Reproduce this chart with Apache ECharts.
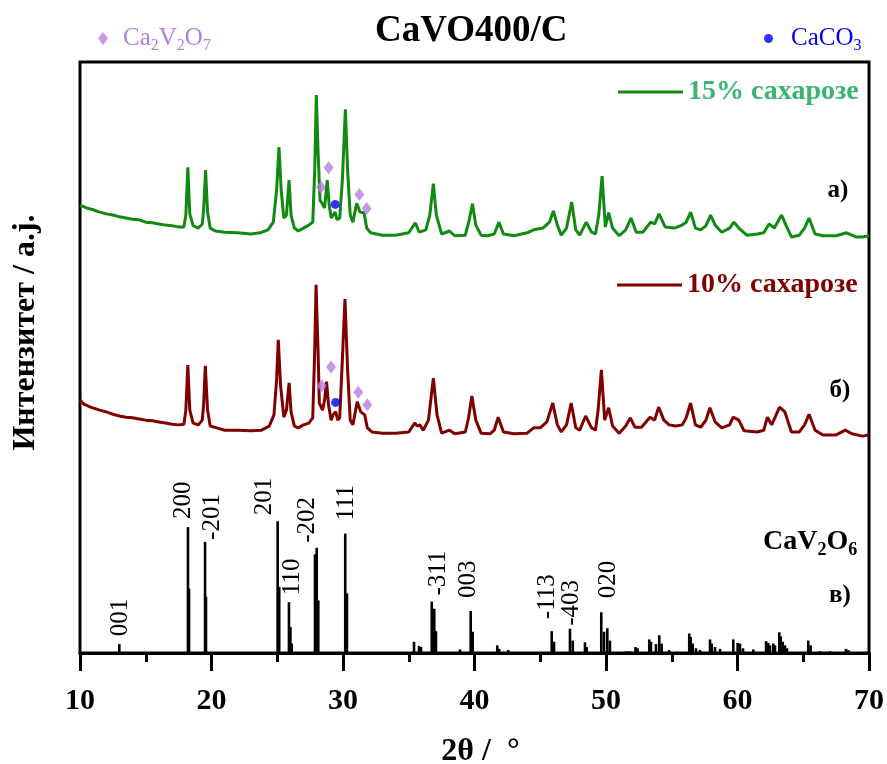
<!DOCTYPE html>
<html>
<head>
<meta charset="utf-8">
<script src="https://cdn.jsdelivr.net/npm/echarts/dist/echarts.min.js"></script>
<style>
  html, body { margin: 0; padding: 0; background: #fff; }
  #chart { width: 887px; height: 764px; }
</style>
</head>
<body>
<div id="chart"></div>
<script>
// 2θ tick labels of the bottom axis
const xTicks = [10, 20, 30, 40, 50, 60, 70];

// XRD pattern, CaVO400/C with 15 % sucrose: [2θ, intensity (a.u., offset)]
const trace15 = [
  [10.0,75.8],[10.5,75.3],[11.0,75.0],[11.5,74.6],[12.0,74.3],[12.5,74.1],[13.0,73.8],[13.5,73.6],
  [14.0,73.4],[14.5,73.3],[15.0,72.9],[15.5,72.8],[16.0,72.6],[16.5,72.4],[17.0,72.3],[17.5,72.1],
  [17.9,72.1],[18.05,74.1],[18.2,82.2],[18.35,74.3],[18.6,72.3],[19.0,71.9],[19.3,72.6],[19.4,75.0],
  [19.55,81.7],[19.7,74.6],[19.9,71.9],[20.3,71.4],[21.0,71.2],[22.0,71.1],[23.0,70.9],[23.7,71.1],
  [24.3,71.6],[24.7,72.9],[24.95,78.3],[25.13,85.6],[25.3,78.3],[25.5,73.6],[25.7,74.1],[25.9,80.0],
  [26.05,74.1],[26.3,71.9],[26.6,71.4],[27.0,71.9],[27.4,72.4],[27.7,72.9],[27.85,81.7],[27.97,94.4],
  [28.1,85.1],[28.25,76.6],[28.4,76.1],[28.6,75.3],[28.8,80.0],[28.95,75.8],[29.1,73.6],[29.25,74.1],
  [29.4,74.6],[29.55,73.3],[29.75,73.6],[29.95,80.0],[30.18,92.0],[30.35,81.7],[30.55,74.1],[30.75,72.9],
  [31.04,76.1],[31.3,74.6],[31.6,74.5],[31.8,71.9],[32.1,71.1],[33.0,70.7],[34.0,70.7],[35.0,71.1],
  [35.5,72.8],[35.8,71.2],[36.3,71.6],[36.6,74.1],[36.87,79.4],[37.1,74.1],[37.5,70.9],[38.1,71.4],
  [38.5,70.6],[39.3,70.7],[39.6,73.3],[39.84,76.0],[40.1,72.4],[40.5,70.7],[41.0,70.6],[41.5,70.9],
  [41.86,72.9],[42.2,70.9],[43.0,70.6],[44.0,71.1],[44.5,71.6],[45.2,71.9],[45.7,72.9],[46.0,74.8],
  [46.3,72.4],[46.6,70.7],[47.0,71.9],[47.39,76.3],[47.7,71.6],[48.0,70.7],[48.5,72.9],[48.9,71.2],
  [49.2,70.9],[49.45,74.1],[49.7,80.7],[49.95,72.1],[50.2,74.5],[50.5,71.9],[51.0,70.6],[51.5,71.6],
  [51.9,73.6],[52.3,71.2],[52.8,71.2],[53.4,72.9],[53.7,72.6],[54.03,74.3],[54.5,72.1],[55.2,71.9],
  [55.7,72.3],[56.1,72.9],[56.44,74.6],[56.8,71.9],[57.2,71.6],[57.6,72.3],[57.96,74.1],[58.3,72.4],
  [58.8,71.2],[59.4,71.9],[59.73,72.9],[60.1,71.9],[60.7,70.7],[61.5,70.9],[62.0,71.1],[62.4,72.6],
  [62.8,71.9],[63.35,74.1],[63.7,72.3],[64.1,70.4],[64.7,70.7],[65.1,71.9],[65.44,73.6],[65.9,70.9],
  [66.5,70.6],[67.5,70.6],[68.3,71.1],[69.0,70.4],[69.5,70.4],[70.0,70.6]
];

// XRD pattern, CaVO400/C with 10 % sucrose
const trace10 = [
  [10.0,42.8],[10.3,42.1],[10.8,41.6],[11.5,41.1],[12.0,40.8],[12.5,40.4],[13.0,40.1],[13.5,39.9],
  [14.0,39.8],[14.5,39.6],[15.0,39.4],[15.5,39.3],[16.0,39.1],[16.5,38.9],[17.0,38.7],[17.5,38.6],
  [17.9,38.7],[18.05,41.1],[18.2,48.7],[18.35,41.1],[18.6,38.9],[19.0,38.6],[19.3,39.4],[19.4,42.0],
  [19.53,48.6],[19.7,41.1],[19.9,38.4],[20.4,38.1],[21.0,37.7],[22.0,37.7],[23.0,37.6],[23.8,37.7],
  [24.4,38.4],[24.75,40.3],[24.95,46.2],[25.08,53.0],[25.25,45.3],[25.5,39.9],[25.7,41.1],[25.9,45.7],
  [26.05,40.8],[26.3,38.4],[26.6,38.1],[27.0,38.6],[27.4,38.9],[27.7,39.8],[27.85,51.3],[27.95,62.3],
  [28.1,51.3],[28.2,42.3],[28.45,41.1],[28.6,42.8],[28.75,45.9],[28.9,42.0],[29.1,39.4],[29.25,40.3],
  [29.45,40.8],[29.6,39.4],[29.75,39.8],[29.95,49.6],[30.15,59.9],[30.35,47.9],[30.55,39.4],[30.75,38.6],
  [31.08,42.5],[31.35,40.8],[31.65,40.3],[31.85,38.1],[32.2,37.4],[33.0,37.2],[34.0,37.2],[35.0,37.4],
  [35.45,38.9],[35.65,38.4],[35.85,38.6],[36.1,37.7],[36.5,39.4],[36.87,46.5],[37.15,40.3],[37.5,37.2],
  [38.1,37.7],[38.5,37.1],[39.3,37.4],[39.55,39.8],[39.8,43.5],[40.1,39.4],[40.5,37.2],[41.2,37.1],
  [41.5,37.7],[41.8,39.9],[42.2,37.4],[43.0,37.1],[44.0,37.2],[44.5,38.1],[45.0,38.1],[45.5,39.1],
  [45.95,42.3],[46.3,38.6],[46.6,37.4],[47.0,38.6],[47.35,42.3],[47.7,38.1],[48.0,37.7],[48.45,40.1],
  [48.9,38.1],[49.2,37.7],[49.4,41.1],[49.65,47.9],[49.9,39.4],[50.2,41.5],[50.5,38.4],[51.0,37.2],
  [51.5,38.4],[51.85,39.8],[52.2,38.2],[52.7,38.2],[53.35,39.9],[53.7,39.4],[54.0,41.6],[54.4,39.4],
  [54.8,38.6],[55.3,38.4],[55.8,38.6],[56.1,39.8],[56.43,42.3],[56.8,38.6],[57.2,38.2],[57.6,39.4],
  [57.9,41.5],[58.3,39.1],[58.8,38.1],[59.4,38.6],[59.67,39.9],[60.1,39.4],[60.5,37.6],[61.5,37.4],
  [62.0,37.7],[62.27,39.9],[62.6,38.6],[63.2,41.6],[63.6,40.8],[64.1,37.4],[64.7,37.4],[65.1,38.6],
  [65.44,40.4],[65.9,37.7],[66.5,36.9],[67.5,36.9],[68.2,37.7],[68.7,37.1],[69.5,36.7],[70.0,36.9]
];

// Reference pattern of CaV2O6: [2θ, intensity (a.u.)]
const patternCaV2O6 = [
  [12.99,1.5],
  [18.21,21.3],[18.29,10.9],
  [19.51,18.8],[19.58,9.5],
  [25.03,22.3],[25.15,11.2],
  [25.89,8.6],[26.0,4.4],[26.1,1.6],
  [27.87,16.7],[28.0,17.8],[28.12,8.9],
  [30.17,20.2],[30.3,10.1],
  [35.4,1.9],[35.78,1.2],[35.93,1.0],
  [36.75,8.7],[36.94,7.5],[37.07,3.7],
  [38.9,0.6],
  [39.71,7.1],[39.86,3.6],
  [41.73,1.3],[41.88,0.7],[42.57,0.5],
  [45.87,3.7],[46.05,1.9],
  [47.26,4.1],[47.47,2.1],
  [48.4,1.8],[48.53,1.0],
  [49.64,6.9],[49.85,3.6],[50.1,4.2],[50.3,2.1],
  [51.56,0.3],[51.81,0.3],[52.24,1.0],[52.4,0.8],
  [53.29,2.3],[53.42,1.9],[53.8,1.5],[54.05,3.0],[54.23,1.6],[54.8,0.5],
  [56.33,3.3],[56.44,2.7],[56.59,1.6],[56.84,0.8],[57.15,0.5],
  [57.91,2.3],[58.04,1.6],[58.29,1.0],[58.67,0.7],
  [59.68,2.3],[60.01,1.7],[60.19,1.6],[60.42,0.8],
  [61.2,0.6],
  [62.17,2.0],[62.34,1.7],[62.47,1.3],[62.72,1.6],[62.85,1.3],
  [63.18,3.5],[63.29,2.8],[63.44,1.9],[63.61,1.3],[63.76,0.8],
  [65.38,2.1],[65.56,1.3],
  [66.27,0.3],[67.03,0.3],
  [68.25,0.7],[68.43,0.5]
];

// Miller indices of the strongest CaV2O6 reflections and the line each one labels
const hklNames = ['001', '200', '-201', '201', '110', '-202', '111', '-311', '003', '-113', '-403', '020'];
const hklPeaks = [
  [12.99,1.5],[18.21,21.3],[19.51,18.8],[25.03,22.3],[25.89,8.6],[28.0,17.8],
  [30.17,20.2],[36.75,8.7],[39.71,7.1],[45.87,3.7],[47.26,4.1],[49.64,6.9]
];

// Secondary phases marked on the two patterns
const ca2v2o7Marks = [
  [28.33,78.8],[28.91,82.1],[31.24,77.6],[31.8,75.2],
  [28.38,45.2],[29.09,48.4],[31.16,44.1],[31.85,42.0]
];
const caco3Marks = [[29.41,75.9],[29.44,42.4]];

// ---- layout & styling ----
const SERIF = 'Liberation Serif, Times New Roman, serif';
const GREEN = '#128a12';
const GREEN_TEXT = '#3cb371';
const RED = '#800000';
const VIOLET = '#b57ee0';
const BLUE = '#0000ff';

// label nudges for the hkl texts, in px: [horizontal shift, gap above the line]
const hklShift = [[1,8],[-5,8],[7,2],[-13,6],[3,7],[-9,5],[1,13],[7,6],[-2,13],[-4,12],[1,3],[7,14]];

// chemical formula as rich text: even parts normal, odd parts subscript
function chem(parts, lead) {
  return parts.map((p, i) => {
    if (i % 2 === 1) return '{s|' + p + '}';
    return (i === 0 && lead ? '{f|' : '{n|') + p + '}';
  }).join('');
}
function chemRich(size, subSize, color, bold, lead) {
  const w = bold ? 'bold' : 'normal';
  const base = { fontFamily: SERIF, fontSize: size, fontWeight: w, color: color,
                 lineHeight: size, verticalAlign: 'top' };
  return {
    n: base,
    f: Object.assign({}, base, { padding: [0, 0, 0, lead || 0] }),
    s: { fontFamily: SERIF, fontSize: subSize, fontWeight: w, color: color,
         lineHeight: subSize, verticalAlign: 'top', padding: [Math.round(size * 0.48), 0, 0, 0] }
  };
}

const chart = echarts.init(document.getElementById('chart'), null, { renderer: 'canvas' });

const option = {
  animation: false,
  backgroundColor: '#fff',
  title: {
    text: 'CaVO400/C',
    left: 375,
    top: 13,
    padding: 0,
    textStyle: { fontFamily: SERIF, fontSize: 37, fontWeight: 'bold', color: '#000' }
  },
  grid: {
    left: 80, right: 18, top: 62, bottom: 111,
    show: true, borderColor: '#000', borderWidth: 3,
    outerBoundsMode: 'none'
  },
  legend: [
    {
      data: [{ name: '15% сахарозе', textStyle: { color: GREEN_TEXT } }],
      left: 618, top: 78, padding: 0, icon: 'rect', itemWidth: 65, itemHeight: 3,
      selectedMode: false,
      textStyle: { fontFamily: SERIF, fontSize: 28, fontWeight: 'bold' }
    },
    {
      data: [{ name: '10% сахарозе', textStyle: { color: RED } }],
      left: 617, top: 271, padding: 0, icon: 'rect', itemWidth: 65, itemHeight: 3,
      selectedMode: false,
      textStyle: { fontFamily: SERIF, fontSize: 28, fontWeight: 'bold' }
    },
    {
      data: ['Ca2V2O7'],
      left: 98, top: 26, padding: 0, icon: 'diamond', itemWidth: 10, itemHeight: 13,
      selectedMode: false,
      formatter: () => chem(['Ca', '2', 'V', '2', 'O', '7'], true),
      textStyle: { rich: chemRich(25, 16, VIOLET, false, 10) }
    },
    {
      data: ['CaCO3'],
      left: 764, top: 26, padding: 0, icon: 'circle', itemWidth: 9, itemHeight: 9,
      selectedMode: false,
      formatter: () => chem(['CaCO', '3'], true),
      textStyle: { rich: chemRich(25, 16, BLUE, false, 13) }
    }
  ],
  xAxis: {
    type: 'value',
    min: xTicks[0],
    max: xTicks[xTicks.length - 1],
    interval: xTicks[1] - xTicks[0],
    name: '2θ /  °',
    nameLocation: 'middle',
    nameGap: 83,
    nameMoveOverlap: false,
    nameTextStyle: { fontFamily: SERIF, fontSize: 32, fontWeight: 'bold', color: '#000', padding: [0, 0, 0, 12] },
    axisLine: { show: true, onZero: false, lineStyle: { color: '#000', width: 3 } },
    axisTick: { show: true, inside: false, length: 18, lineStyle: { color: '#000', width: 3 } },
    minorTick: { show: true, splitNumber: 2, length: 9, lineStyle: { color: '#000', width: 3 } },
    axisLabel: { margin: 33, fontFamily: SERIF, fontSize: 30, fontWeight: 'bold', color: '#000' },
    splitLine: { show: false },
    minorSplitLine: { show: false }
  },
  yAxis: {
    type: 'value',
    min: 0,
    max: 100,
    name: 'Интензитет / a.j.',
    nameLocation: 'middle',
    nameGap: 38,
    nameMoveOverlap: false,
    nameTextStyle: { fontFamily: SERIF, fontSize: 32, fontWeight: 'bold', color: '#000', padding: [0, 0, 0, 50] },
    axisLine: { show: false },
    axisTick: { show: false },
    axisLabel: { show: false },
    splitLine: { show: false }
  },
  series: [
    {
      name: '15% сахарозе',
      type: 'line',
      data: trace15,
      showSymbol: false,
      color: GREEN,
      lineStyle: { color: GREEN, width: 3 },
      z: 3
    },
    {
      name: '10% сахарозе',
      type: 'line',
      data: trace10,
      showSymbol: false,
      color: RED,
      lineStyle: { color: RED, width: 3 },
      z: 3
    },
    {
      name: 'CaV2O6',
      type: 'custom',
      data: patternCaV2O6,
      encode: { x: 0, y: 1 },
      renderItem: (params, api) => {
        const base = api.coord([api.value(0), 0]);
        const top = api.coord([api.value(0), api.value(1)]);
        return {
          type: 'line',
          shape: { x1: base[0], y1: base[1], x2: top[0], y2: top[1] },
          style: { stroke: '#000', lineWidth: 2.6 }
        };
      },
      z: 2
    },
    {
      name: 'hkl',
      type: 'custom',
      data: hklPeaks,
      encode: { x: 0, y: 1 },
      renderItem: (params, api) => {
        const i = params.dataIndex;
        const p = api.coord([api.value(0), api.value(1)]);
        return {
          type: 'text',
          x: p[0] + hklShift[i][0],
          y: p[1] - hklShift[i][1],
          rotation: Math.PI / 2,
          style: {
            text: hklNames[i],
            fontFamily: SERIF, fontSize: 25, fill: '#000',
            align: 'left', verticalAlign: 'middle'
          }
        };
      },
      z: 4
    },
    {
      name: 'Ca2V2O7',
      type: 'scatter',
      data: ca2v2o7Marks,
      symbol: 'diamond',
      symbolSize: [10, 13],
      itemStyle: { color: VIOLET },
      z: 5
    },
    {
      name: 'CaCO3',
      type: 'scatter',
      data: caco3Marks,
      symbol: 'circle',
      symbolSize: 9,
      itemStyle: { color: BLUE },
      z: 5
    }
  ],
  graphic: [
    { type: 'text', x: 838, y: 191, style: { text: 'а)', fontFamily: SERIF, fontSize: 25, fontWeight: 'bold', fill: '#000', align: 'center', verticalAlign: 'middle' } },
    { type: 'text', x: 840, y: 391, style: { text: 'б)', fontFamily: SERIF, fontSize: 25, fontWeight: 'bold', fill: '#000', align: 'center', verticalAlign: 'middle' } },
    { type: 'text', x: 840, y: 596, style: { text: 'в)', fontFamily: SERIF, fontSize: 25, fontWeight: 'bold', fill: '#000', align: 'center', verticalAlign: 'middle' } },
    {
      type: 'text', x: 763, y: 528,
      style: {
        text: chem(['CaV', '2', 'O', '6']),
        rich: chemRich(28, 18, '#000', true),
        align: 'left', verticalAlign: 'top'
      }
    }
  ]
};

chart.setOption(option);
</script>
</body>
</html>
